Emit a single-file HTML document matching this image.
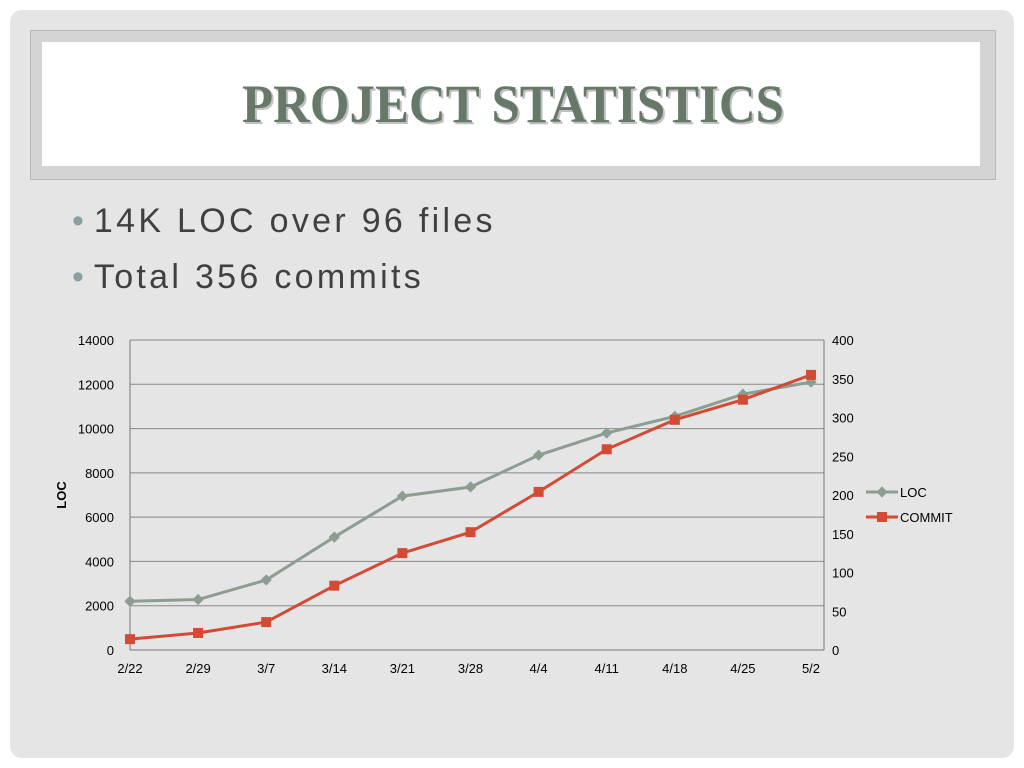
<!DOCTYPE html>
<html><head><meta charset="utf-8"><style>
body{margin:0;width:1024px;height:768px;background:#fff;overflow:hidden;font-family:"Liberation Sans",sans-serif;}
#slide{position:absolute;left:10px;top:10px;width:1004px;height:748px;border-radius:12px;background:#e5e5e5;}
#tframe{position:absolute;left:30px;top:30px;width:964px;height:148px;background:#d4d4d4;border:1px solid #b8b8b8;}
#tinner{position:absolute;left:42px;top:42px;width:938px;height:124px;background:#fff;}
.bul{position:absolute;left:72px;font-size:34px;color:#404040;letter-spacing:3.3px;}
.bul span{color:#8aa0a0;margin-right:10px;letter-spacing:0;}
</style></head><body>
<div id="slide"></div>
<div id="tframe"></div>
<div id="tinner"></div>
<svg style="position:absolute;left:0;top:0" width="1024" height="200">
<text x="242" y="122" font-family="Liberation Serif,serif" font-weight="bold" font-size="54" fill="#c0c0c0" textLength="542" lengthAdjust="spacingAndGlyphs" transform="translate(2,2)">PROJECT STATISTICS</text>
<text x="242" y="122" font-family="Liberation Serif,serif" font-weight="bold" font-size="54" fill="#667868" textLength="542" lengthAdjust="spacingAndGlyphs">PROJECT STATISTICS</text>
</svg>
<div class="bul" style="top:202px"><span>•</span>14K LOC over 96 files</div>
<div class="bul" style="top:258px"><span>•</span>Total 356 commits</div>
<svg id="chart" style="position:absolute;left:0;top:0" width="1024" height="768"></svg>
<script>
const categories=["2/22","2/29","3/7","3/14","3/21","3/28","4/4","4/11","4/18","4/25","5/2"];
const locValues=[2200,2280,3160,5100,6950,7360,8800,9800,10550,11550,12100];
const commitValues=[14,22,36,83,125,152,204,259,297,323,355];
const leftTicks=[0,2000,4000,6000,8000,10000,12000,14000];
const rightTicks=[0,50,100,150,200,250,300,350,400];
const svg=document.getElementById('chart');const NS='http://www.w3.org/2000/svg';
const X0=130,X1=824,Y0=650,Y1=340,step=68.1;
const x=i=>X0+i*step;
const yl=v=>Y0-(v/14000)*(Y0-Y1);
const yr=v=>Y0-(v/400)*(Y0-Y1);
function mk(t,a,txt){const e=document.createElementNS(NS,t);for(const k in a)e.setAttribute(k,a[k]);if(txt!==undefined)e.textContent=txt;svg.appendChild(e);return e;}
leftTicks.forEach(v=>{const g=mk('line',{x1:X0,x2:X1,y1:yl(v),y2:yl(v),stroke:v?'#888':'#777','stroke-width':1});

const t=mk('text',{x:X0-16,y:yl(v)+5,'text-anchor':'end','font-size':13,fill:'#000'},v);
});
rightTicks.forEach(v=>{const t=mk('text',{x:X1+8,y:yr(v)+5,'font-size':13,fill:'#000'},v);
});
let a=mk('line',{x1:X0,x2:X0,y1:Y1,y2:Y0,stroke:'#777'});
a=mk('line',{x1:X1,x2:X1,y1:Y1,y2:Y0,stroke:'#777'});
categories.forEach((c,i)=>{const t=mk('text',{x:x(i),y:Y0+23,'text-anchor':'middle','font-size':13,fill:'#000'},c);
});
const yt=mk('text',{x:66,y:495,'text-anchor':'middle','font-size':13,'font-weight':'bold',transform:'rotate(-90 66 495)'},'LOC');

const l1=mk('polyline',{points:locValues.map((v,i)=>x(i)+','+yl(v)).join(' '),fill:'none',stroke:'#8c9e91','stroke-width':3});

locValues.forEach((v,i)=>{const p=mk('rect',{x:x(i)-4,y:yl(v)-4,width:8,height:8,fill:'#8c9e91',transform:`rotate(45 ${x(i)} ${yl(v)})`});
});
const l2=mk('polyline',{points:commitValues.map((v,i)=>x(i)+','+yr(v)).join(' '),fill:'none',stroke:'#d24b35','stroke-width':3});

commitValues.forEach((v,i)=>{const p=mk('rect',{x:x(i)-5,y:yr(v)-5,width:10,height:10,fill:'#d24b35'});
});
let g=mk('line',{x1:866,x2:898,y1:492,y2:492,stroke:'#8c9e91','stroke-width':3});
g=mk('rect',{x:878,y:488,width:8,height:8,fill:'#8c9e91',transform:'rotate(45 882 492)'});
g=mk('text',{x:900,y:497,'font-size':13},'LOC');
g=mk('line',{x1:866,x2:898,y1:517,y2:517,stroke:'#d24b35','stroke-width':3});
g=mk('rect',{x:877,y:512,width:10,height:10,fill:'#d24b35'});
g=mk('text',{x:900,y:522,'font-size':13},'COMMIT');
</script>
</body></html>
